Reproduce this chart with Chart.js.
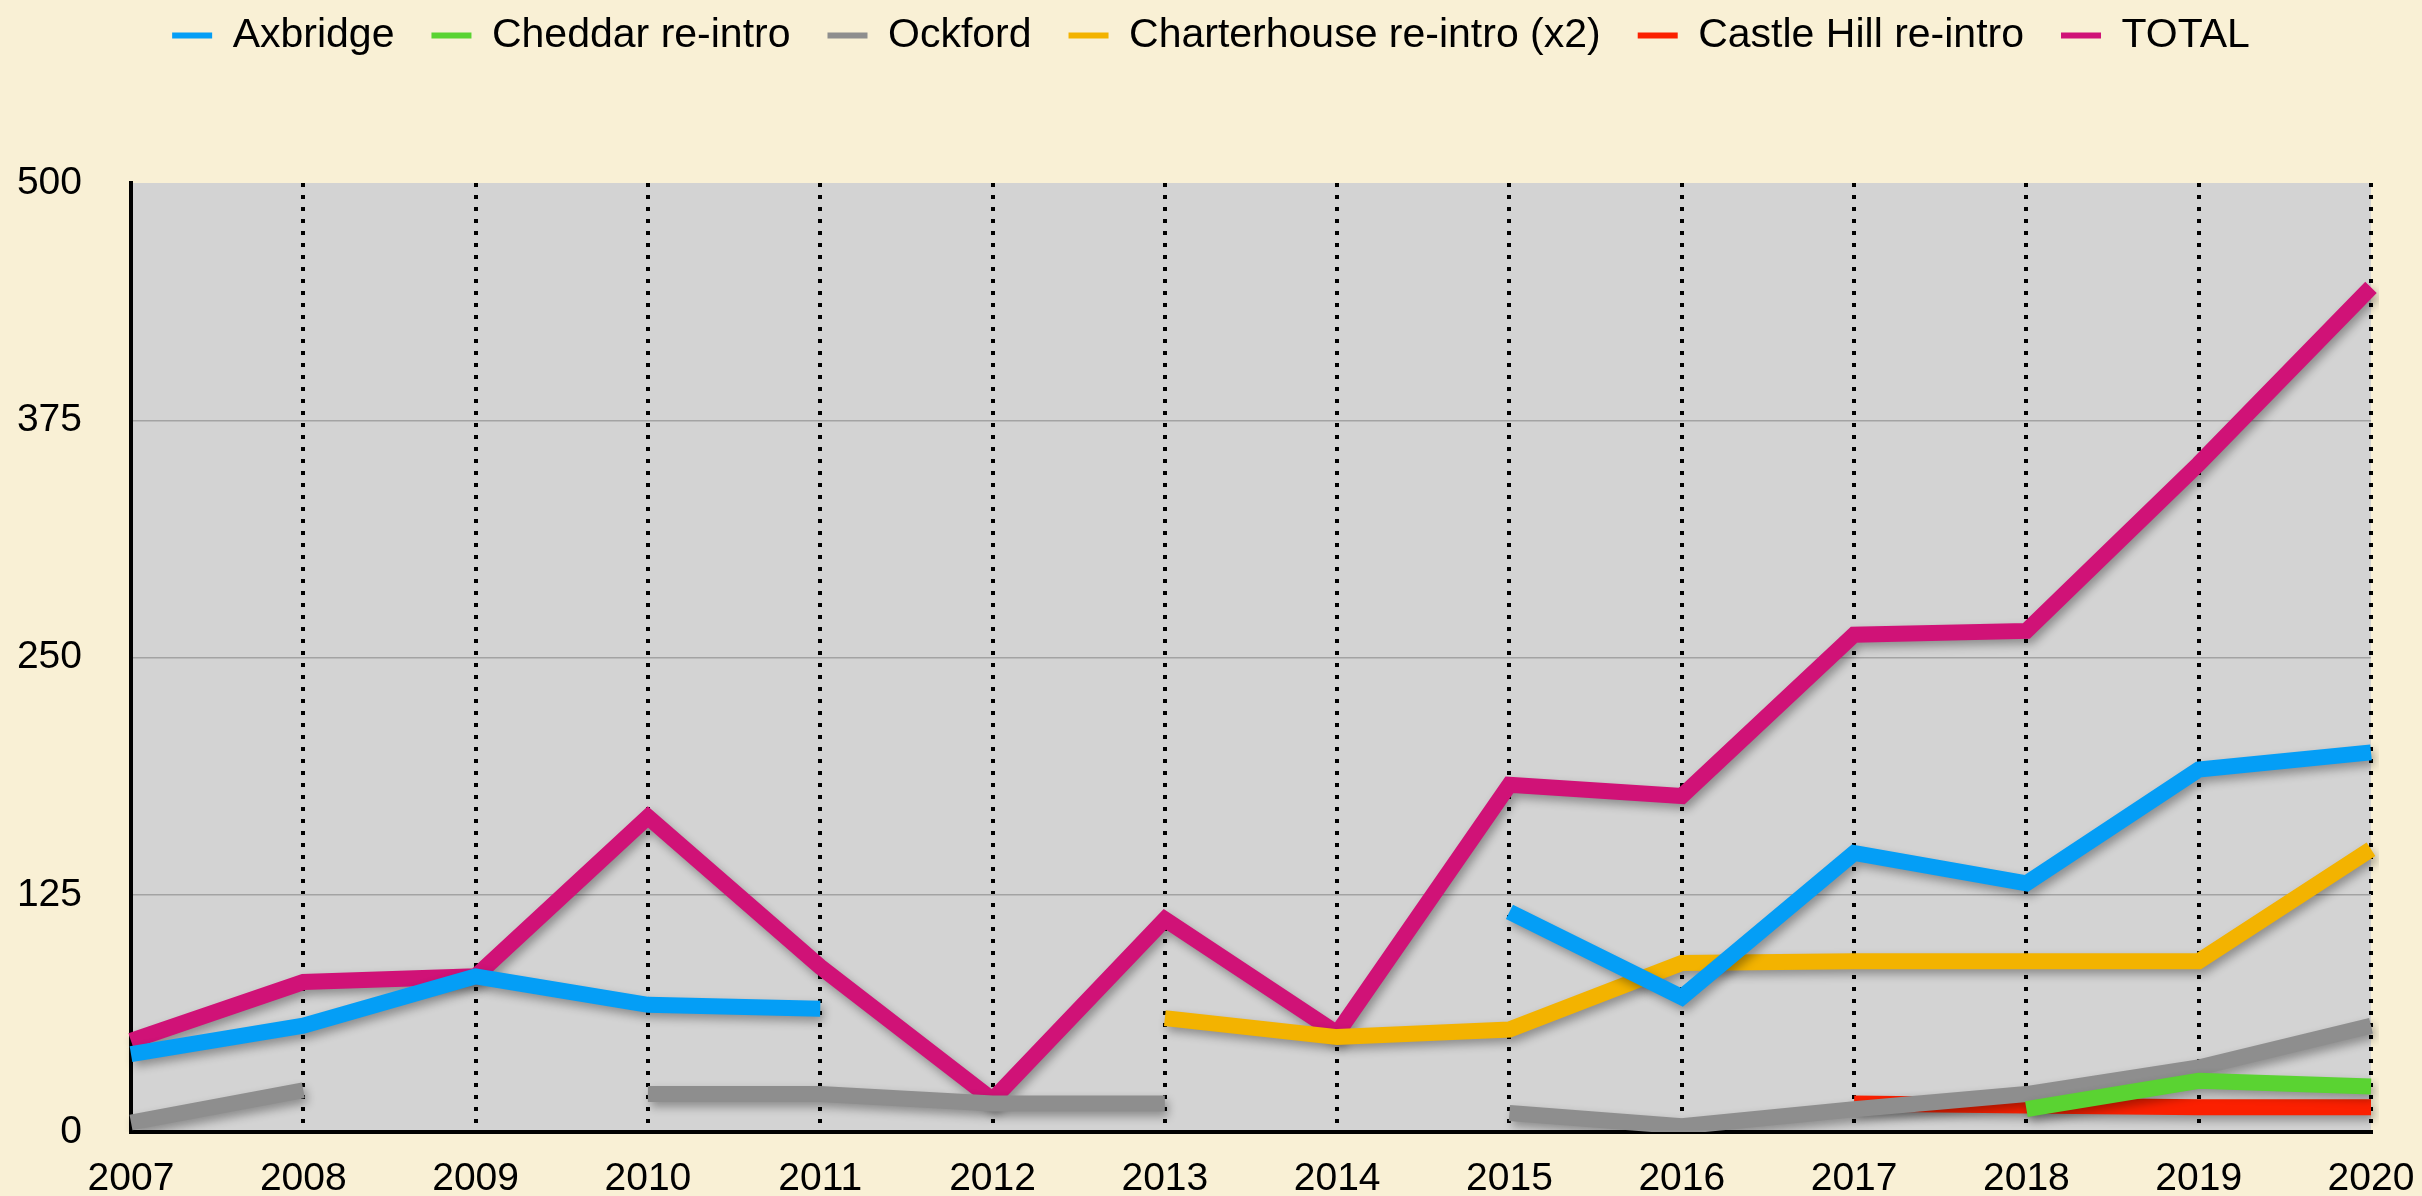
<!DOCTYPE html>
<html>
<head>
<meta charset="utf-8">
<script src="https://cdn.jsdelivr.net/npm/chart.js@4/dist/chart.umd.min.js"></script>
<style>
  html, body { margin: 0; padding: 0; background: #f9f0d5; overflow: hidden; }
  #wrap { width: 2422px; height: 1196px; overflow: hidden; }
  #chart { display: block; }
</style>
</head>
<body>
<div id="wrap"><canvas id="chart" width="2422" height="1196"></canvas></div>
<script>
// years along the x axis
const years = ['2007', '2008', '2009', '2010', '2011', '2012', '2013',
               '2014', '2015', '2016', '2017', '2018', '2019', '2020'];

// series values (null = no record that year)
const axbridge     = [41, 56, 82, 67, 65, null, null, null, 116, 71, 147, 131, 191, 200];
const cheddar      = [null, null, null, null, null, null, null, null, null, null, null, 12, 27, 24];
const ockford      = [5, 22, null, 20, 20, 15, 15, null, 10, 3, 12, 20, 34, 56];
const charterhouse = [null, null, null, null, null, null, 60, 50, 54, 89, 90, 90, 90, 149];
const castleHill   = [null, null, null, null, null, null, null, null, null, null, 15, 14, 13, 13];
const total        = [48, 79, 82, 166, 87, 17, 112, 52, 183, 177, 262, 264, 352, 445];

const yTicks = [0, 125, 250, 375, 500];

const series = [
    { label: 'Axbridge', data: axbridge, color: '#049ef6' },
    { label: 'Cheddar re-intro', data: cheddar, color: '#5ad332' },
    { label: 'Ockford', data: ockford, color: '#8e8e8e' },
    { label: 'Charterhouse re-intro (x2)', data: charterhouse, color: '#f3b300' },
    { label: 'Castle Hill re-intro', data: castleHill, color: '#fb2000' },
    { label: 'TOTAL', data: total, color: '#d01277' }
];

const FONT = '"Liberation Sans", Arial, Helvetica, sans-serif';

// grey plot background, and a fixed legend band height
const plotBackground = {
    id: 'plotBackground',
    beforeDraw(chart) {
        const { ctx, chartArea: a } = chart;
        ctx.save();
        ctx.fillStyle = '#d3d3d3';
        ctx.fillRect(a.left, a.top, a.right - a.left, a.bottom - a.top);
        ctx.restore();
    },
    beforeLayout(chart) {
        const lg = chart.legend;
        if (lg && !lg._fixed) {
            const fit = lg.fit;
            lg.fit = function () { fit.call(this); this.height = 205; };
            lg._fixed = true;
        }
    }
};

// soft drop shadow under each line
const lineShadow = {
    id: 'lineShadow',
    beforeDatasetDraw(chart) {
        const ctx = chart.ctx;
        ctx.save();
        ctx.shadowColor = 'rgba(0,0,0,0.33)';
        ctx.shadowBlur = 10;
        ctx.shadowOffsetX = 3;
        ctx.shadowOffsetY = 5;
    },
    afterDatasetDraw(chart) {
        chart.ctx.restore();
    }
};

new Chart(document.getElementById('chart'), {
    type: 'line',
    data: {
        labels: years,
        datasets: series.map(s => ({
            label: s.label,
            data: s.data,
            borderColor: s.color,
            backgroundColor: s.color,
            borderWidth: 16,
            borderJoinStyle: 'miter',
            borderCapStyle: 'butt',
            pointRadius: 0,
            pointHoverRadius: 0,
            tension: 0,
            spanGaps: false,
            fill: false
        }))
    },
    options: {
        responsive: false,
        animation: false,
        layout: { padding: { top: -22, left: 0, right: 0, bottom: 0 } },
        plugins: {
            tooltip: { enabled: false },
            legend: {
                position: 'top',
                labels: {
                    font: { family: FONT, size: 41 },
                    color: '#000',
                    boxWidth: 40,
                    boxHeight: 6,
                    padding: 37,
                    generateLabels: chart => Chart.defaults.plugins.legend.labels
                        .generateLabels(chart)
                        .map(l => ({ ...l, lineWidth: 0 }))
                }
            }
        },
        scales: {
            x: {
                type: 'category',
                offset: false,
                grid: {
                    color: '#000',
                    lineWidth: 4,
                    drawTicks: false
                },
                border: { display: true, color: '#000', width: 4, dash: [4, 8] },
                ticks: {
                    font: { family: FONT, size: 39 },
                    color: '#000',
                    padding: 24,
                    maxRotation: 0,
                    autoSkip: false
                },
                afterFit(s) { s.height = 64; s.paddingRight = 51; }
            },
            y: {
                min: 0,
                max: 500,
                afterBuildTicks(s) { s.ticks = yTicks.map(v => ({ value: v })); },
                grid: {
                    color: ctx => (ctx.tick && (ctx.tick.value === 0 || ctx.tick.value === 500))
                        ? 'rgba(0,0,0,0)' : '#a3a3a3',
                    lineWidth: 1.5,
                    drawTicks: false
                },
                border: { display: true, color: '#000', width: 4 },
                ticks: {
                    font: { family: FONT, size: 39 },
                    color: '#000',
                    padding: 49
                },
                afterFit(s) { s.width = 131; s.paddingTop = 0; s.paddingBottom = 0; }
            }
        }
    },
    plugins: [plotBackground, lineShadow]
});
</script>
</body>
</html>
